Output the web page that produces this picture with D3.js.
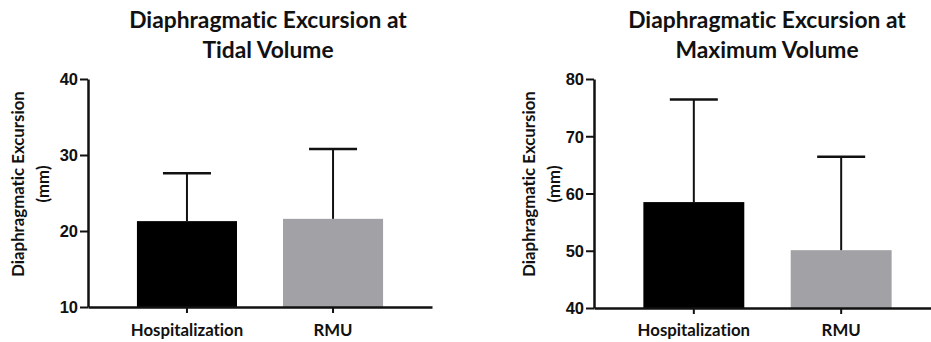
<!DOCTYPE html>
<html>
<head>
<meta charset="utf-8">
<script src="https://cdn.jsdelivr.net/npm/d3@7"></script>
<style>
  body { margin: 0; background: #fff; }
  text { font-variant-ligatures: none; }
  .title { font-family: Lato, "Open Sans", sans-serif; font-weight: 700; font-size: 22.8px; fill: #111; }
  .ylab { font-family: Lato, "Open Sans", sans-serif; font-weight: 700; font-size: 16.8px; fill: #111; }
  .xlab { font-family: Lato, "Open Sans", sans-serif; font-weight: 700; font-size: 16.8px; fill: #111; }
</style>
</head>
<body>
<svg id="chart" width="931" height="342"></svg>
<script>
// Groups on the x axis
const categories = ['Hospitalization', 'RMU'];
const barColors = ['#000000', '#a2a2a6'];

// Tidal volume: mean and SD (mm)
const tidalMean = [21.3, 21.6];
const tidalSD = [6.3, 9.2];
const tidalTicks = [10, 20, 30, 40];

// Maximum volume: mean and SD (mm)
const maxMean = [58.5, 50.1];
const maxSD = [17.9, 16.3];
const maxTicks = [40, 50, 60, 70, 80];

const svg = d3.select('#chart');

function drawPanel(opts) {
  const g = svg.append('g');

  const x = d3.scaleBand()
    .domain(categories)
    .range([opts.left, opts.right])
    .paddingInner(0.315)
    .paddingOuter(0.335);

  const y = d3.scaleLinear()
    .domain(opts.domain)
    .range([opts.bottom, opts.top]);

  const data = categories.map((c, i) => ({ cat: c, mean: opts.mean[i], sd: opts.sd[i], color: barColors[i] }));

  // bars
  g.selectAll('.bar')
    .data(data)
    .enter().append('rect')
    .attr('class', 'bar')
    .attr('x', d => x(d.cat))
    .attr('width', x.bandwidth())
    .attr('y', d => y(d.mean))
    .attr('height', d => y(opts.domain[0]) - y(d.mean))
    .attr('fill', d => d.color);

  // error bars (upper only)
  const cx = d => x(d.cat) + x.bandwidth() / 2;
  g.selectAll('.err')
    .data(data)
    .enter().append('line')
    .attr('x1', cx).attr('x2', cx)
    .attr('y1', d => y(d.mean))
    .attr('y2', d => y(d.mean + d.sd))
    .attr('stroke', '#111').attr('stroke-width', 2);

  g.selectAll('.cap')
    .data(data)
    .enter().append('line')
    .attr('x1', d => cx(d) - 24).attr('x2', d => cx(d) + 24)
    .attr('y1', d => y(d.mean + d.sd))
    .attr('y2', d => y(d.mean + d.sd))
    .attr('stroke', '#111').attr('stroke-width', 2.5);

  // y axis
  const yAxis = g.append('g')
    .attr('class', 'y axis')
    .attr('transform', `translate(${opts.left},0)`)
    .call(d3.axisLeft(y).tickValues(opts.ticks).tickSize(8).tickPadding(2).tickSizeOuter(0));
  yAxis.select('.domain').attr('stroke', '#111').attr('stroke-width', 2.5);
  yAxis.selectAll('.tick line').attr('stroke', '#111').attr('stroke-width', 2);
  yAxis.selectAll('.tick text')
    .attr('dy', '0.36em')
    .style('font-family', '"Liberation Sans", Arial, sans-serif')
    .style('font-weight', '700')
    .style('font-size', '16.5px')
    .attr('fill', '#111');

  // x axis
  const xAxis = g.append('g')
    .attr('class', 'x axis')
    .attr('transform', `translate(0,${opts.bottom})`)
    .call(d3.axisBottom(x).tickSize(6).tickSizeOuter(0).tickFormat(''));
  xAxis.select('.domain').attr('stroke', '#111').attr('stroke-width', 2.5);
  xAxis.selectAll('.tick line').attr('stroke', '#111').attr('stroke-width', 2);

  g.selectAll('.xlab')
    .data(categories)
    .enter().append('text')
    .attr('class', 'xlab')
    .attr('text-anchor', 'middle')
    .attr('x', d => x(d) + x.bandwidth() / 2)
    .attr('y', 336)
    .text(d => d);

  // y axis label
  const yl = g.append('text')
    .attr('class', 'ylab')
    .attr('text-anchor', 'middle')
    .attr('transform', `translate(${opts.ylabX},184) rotate(-90)`);
  yl.append('tspan').attr('x', 0).attr('dy', 0).text('Diaphragmatic Excursion');
  yl.append('tspan').attr('x', 0).attr('dy', 25).text('(mm)');

  // title
  const t = g.append('text')
    .attr('class', 'title')
    .attr('text-anchor', 'middle')
    .attr('x', opts.titleX)
    .attr('y', 28);
  t.append('tspan').attr('x', opts.titleX).text('Diaphragmatic Excursion at');
  t.append('tspan').attr('x', opts.titleX).attr('dy', 30).text(opts.titleLine2);
}

drawPanel({
  left: 88, right: 432, top: 79, bottom: 307,
  domain: [10, 40], ticks: tidalTicks,
  mean: tidalMean, sd: tidalSD,
  ylabX: 24, titleX: 268, titleLine2: 'Tidal Volume'
});

drawPanel({
  left: 594, right: 941, top: 79, bottom: 308,
  domain: [40, 80], ticks: maxTicks,
  mean: maxMean, sd: maxSD,
  ylabX: 535, titleX: 767, titleLine2: 'Maximum Volume'
});
</script>
</body>
</html>
